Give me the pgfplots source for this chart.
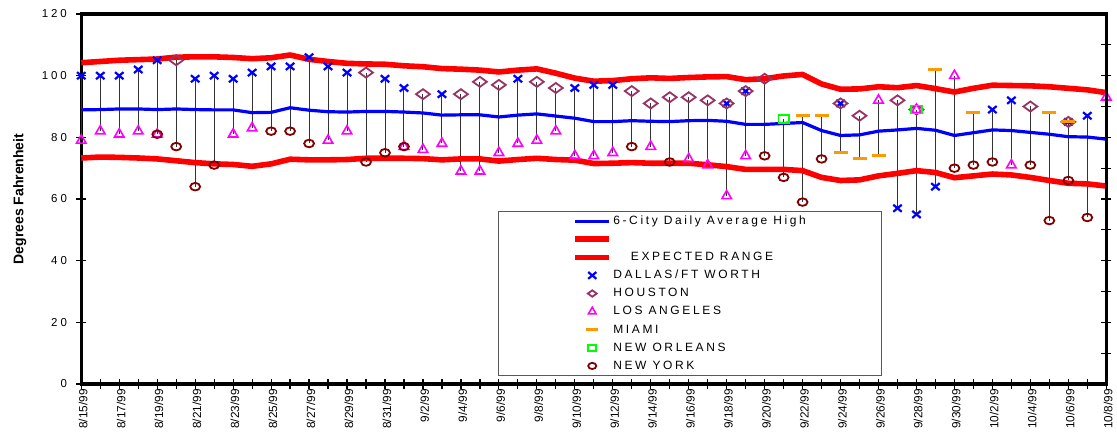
\documentclass[border=0pt]{standalone}
\usepackage{fontspec}
\setmainfont{Liberation Sans}
\newfontfamily\legfont[LetterSpace=22]{Liberation Sans}
\newfontfamily\tickfont[LetterSpace=25]{Liberation Sans}
\usepackage{pgfplots}
\pgfplotsset{compat=1.18}
\usepackage{pgfplotstable}
\definecolor{cdfw}{RGB}{0,0,255}
\definecolor{chou}{RGB}{153,51,102}
\definecolor{cla}{RGB}{255,0,255}
\definecolor{cmia}{RGB}{255,153,0}
\definecolor{cno}{RGB}{0,255,0}
\definecolor{cny}{RGB}{128,0,0}
\definecolor{cavg}{RGB}{0,0,255}
\definecolor{crng}{RGB}{255,0,0}

\pgfplotstableread{
x avg up lo
0 88.9 104.2 73.3
1 89.0 104.6 73.6
2 89.2 105.0 73.5
3 89.2 105.2 73.3
4 89.0 105.4 73.0
5 89.2 106.0 72.4
6 89.0 106.1 71.8
7 88.9 106.1 71.4
8 88.9 105.9 71.2
9 88.0 105.5 70.6
10 88.1 105.8 71.4
11 89.6 106.7 72.9
12 88.8 105.3 72.7
13 88.3 104.6 72.7
14 88.2 104.0 72.8
15 88.4 103.8 73.2
16 88.4 103.7 73.2
17 88.2 103.2 73.2
18 87.9 102.9 73.1
19 87.2 102.3 72.7
20 87.3 102.1 73.0
21 87.3 101.8 73.0
22 86.6 101.2 72.3
23 87.2 101.8 72.8
24 87.6 102.2 73.2
25 86.9 100.8 72.8
26 86.2 99.2 72.6
27 85.1 98.2 71.5
28 85.1 98.4 71.6
29 85.4 99.0 71.8
30 85.2 99.3 71.6
31 85.1 99.1 71.6
32 85.4 99.4 71.6
33 85.5 99.6 71.1
34 85.2 99.7 70.5
35 84.2 98.7 69.6
36 84.2 99.0 69.6
37 84.5 99.9 69.6
38 84.8 100.4 69.2
39 82.2 97.3 67.0
40 80.6 95.6 66.0
41 80.8 95.7 66.2
42 82.0 96.4 67.5
43 82.4 96.1 68.3
44 82.9 96.8 69.2
45 82.3 95.8 68.6
46 80.6 94.7 66.9
47 81.5 95.9 67.5
48 82.4 96.9 68.1
49 82.2 96.8 67.8
50 81.6 96.7 67.0
51 81.0 96.4 66.0
52 80.2 95.9 65.1
53 80.1 95.4 64.9
54 79.4 94.5 64.2
}\rangetable

\pgfplotstableread{
x dfw hou la mia no ny lo hi
0 100 nan 79 nan nan nan 79 100
1 100 nan 82 nan nan nan 82 100
2 100 nan 81 nan nan nan 81 100
3 102 nan 82 nan nan nan 82 102
4 105 nan 81 nan nan 81 81 105
5 nan 105 nan nan nan 77 77 105
6 99 nan nan nan nan 64 64 99
7 100 nan nan nan nan 71 71 100
8 99 nan 81 nan nan nan 81 99
9 101 nan 83 nan nan nan 83 101
10 103 nan nan nan nan 82 82 103
11 103 nan nan nan nan 82 82 103
12 106 nan nan nan nan 78 78 106
13 103 nan 79 nan nan nan 79 103
14 101 nan 82 nan nan nan 82 101
15 nan 101 nan nan nan 72 72 101
16 99 nan nan nan nan 75 75 99
17 96 nan 77 nan nan 77 77 96
18 nan 94 76 nan nan nan 76 94
19 94 nan 78 nan nan nan 78 94
20 nan 94 69 nan nan nan 69 94
21 nan 98 69 nan nan nan 69 98
22 nan 97 75 nan nan nan 75 97
23 99 nan 78 nan nan nan 78 99
24 nan 98 79 nan nan nan 79 98
25 nan 96 82 nan nan nan 82 96
26 96 nan 74 nan nan nan 74 96
27 97 nan 74 nan nan nan 74 97
28 97 nan 75 nan nan nan 75 97
29 nan 95 nan nan nan 77 77 95
30 nan 91 77 nan nan nan 77 91
31 nan 93 nan nan nan 72 72 93
32 nan 93 73 nan nan nan 73 93
33 nan 92 71 nan nan nan 71 92
34 91 91 61 nan nan nan 61 91
35 95 95 74 nan nan nan 74 95
36 nan 99 nan nan nan 74 74 99
37 nan nan nan nan 86 67 67 86
38 nan nan nan 87 nan 59 59 87
39 nan nan nan 87 nan 73 73 87
40 91 91 nan 75 nan nan 75 91
41 nan 87 nan 73 nan nan 73 87
42 nan nan 92 74 nan nan 74 92
43 57 92 nan nan nan nan 57 92
44 55 89 89 nan 89 nan 55 89
45 64 nan nan 102 nan nan 64 102
46 nan nan 100 nan nan 70 70 100
47 nan nan nan 88 nan 71 71 88
48 89 nan nan nan nan 72 72 89
49 92 nan 71 nan nan nan 71 92
50 nan 90 nan nan nan 71 71 90
51 nan nan nan 88 nan 53 53 88
52 85 85 nan 85 nan 66 66 85
53 87 nan nan nan nan 54 54 87
54 nan nan 93 nan nan nan 93 93
}\citytable

\begin{document}
\begin{tikzpicture}
\useasboundingbox (-40.65bp,-25.5bp) rectangle (517.85bp,192bp);
\begin{axis}[
  at={(0,0)}, anchor=south west,
  scale only axis, width=512.5bp, height=185bp,
  xmin=0, xmax=54, ymin=0, ymax=120,
  clip=false,
  axis line style={line width=1.6bp, black},
  xtick={0,2,...,54}, minor xtick={1,3,...,53},
  xticklabels={8/15/99,8/17/99,8/19/99,8/21/99,8/23/99,8/25/99,8/27/99,8/29/99,8/31/99,9/2/99,9/4/99,9/6/99,9/8/99,9/10/99,9/12/99,9/14/99,9/16/99,9/18/99,9/20/99,9/22/99,9/24/99,9/26/99,9/28/99,9/30/99,10/2/99,10/4/99,10/6/99,10/8/99},
  ytick={0,20,...,120}, yticklabels={0,20,40,60,80,100,120},
  ytick pos=left, xtick pos=bottom,
  tick align=center,
  major tick length=5bp, minor tick length=5bp,
  every tick/.style={line width=0.6bp, black},
  every minor tick/.style={line width=0.6bp, black},
  xticklabel style={font=\fontsize{5.9bp}{6bp}\selectfont, rotate=90, anchor=base east, inner sep=0pt, yshift=-3bp},
  yticklabel style={font=\tickfont\fontsize{5.75bp}{6bp}\selectfont, anchor=east, inner sep=0pt, xshift=-4.5bp},
  ylabel={Degrees Fahrenheit},
  ylabel style={font=\bfseries\fontsize{7bp}{8bp}\selectfont, at={(axis description cs:-0.0566,0.5)}, anchor=base, rotate=0},
  legend style={at={(0.4065,0.4676)}, anchor=north west, draw=black!65, line width=0.5bp,
    inner xsep=37bp, inner ysep=0.3bp, font=\legfont\fontsize{6bp}{7bp}\selectfont,
    row sep=0pt, nodes={inner ysep=0pt, inner xsep=0.6bp, text height=6.2bp, text depth=2.85bp}},
  legend cell align=left,
]
\addplot[forget plot, draw=none, mark=none,
  error bars/.cd, y dir=plus, y explicit, error mark=none,
  error bar style={line width=0.5bp, draw=black!80}]
  table[x=x, y=lo, y error expr=\thisrow{hi}-\thisrow{lo}] {\citytable};
\addplot[cavg, line width=1.6bp, mark=none, line join=round] table[x=x, y=avg] {\rangetable};
\addlegendentry{6-City Daily Average High}
\addplot[crng, line width=2.8bp, mark=none, line join=round] table[x=x, y=up] {\rangetable};
\addlegendentry{}
\addplot[crng, line width=2.8bp, mark=none, line join=round] table[x=x, y=lo] {\rangetable};
\addlegendentry{\hspace{8.8bp}EXPECTED RANGE}
\addplot[only marks, cdfw, mark=x, mark size=2.5bp, mark options={xscale=1.2, line width=1.1bp}, legend image post style={mark size=2.4bp}] table[x=x, y=dfw] {\citytable};
\addlegendentry{DALLAS/FT WORTH}
\addplot[only marks, chou, mark=diamond, mark size=2.5bp, mark options={xscale=1.85, line width=0.9bp}, legend image post style={mark size=1.6bp}] table[x=x, y=hou] {\citytable};
\addlegendentry{HOUSTON}
\addplot[only marks, cla, mark=triangle, mark size=2.75bp, mark options={line width=0.8bp}, legend image post style={mark size=2.2bp}] table[x=x, y=la] {\citytable};
\addlegendentry{LOS ANGELES}
\addplot[only marks, cmia, mark=-, mark size=3.5bp, mark options={line width=1.5bp}, legend image post style={mark size=3bp}] table[x=x, y=mia] {\citytable};
\addlegendentry{MIAMI}
\addplot[only marks, cno, mark=square, mark size=2bp, mark options={xscale=1.3, line width=0.9bp}, legend image post style={mark size=1.5bp}] table[x=x, y=no] {\citytable};
\addlegendentry{NEW ORLEANS}
\addplot[only marks, cny, mark=o, mark size=1.9bp, mark options={xscale=1.3, line width=0.9bp}, legend image post style={mark size=1.55bp}] table[x=x, y=ny] {\citytable};
\addlegendentry{NEW YORK}
\end{axis}
\begin{axis}[
  at={(0,0)}, anchor=south west,
  scale only axis, width=512.5bp, height=185bp,
  xmin=0, xmax=54, ymin=0, ymax=120,
  hide x axis, axis y line*=right,
  axis line style={line width=1.6bp, black},
  ytick={10,20,...,110}, yticklabels={},
  tick align=center, major tick length=5bp,
  every tick/.style={line width=0.6bp, black},
]
\addplot[draw=none, mark=none] coordinates {(0,0) (54,120)};
\end{axis}
\end{tikzpicture}
\end{document}
